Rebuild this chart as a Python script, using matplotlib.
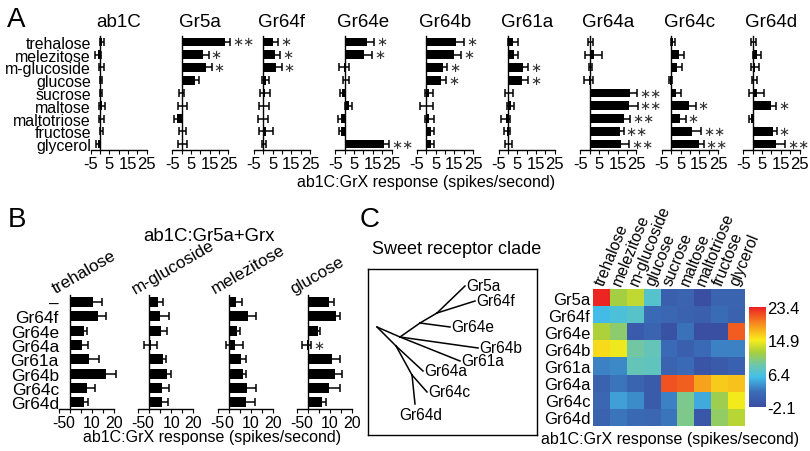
import matplotlib
matplotlib.use('Agg')
import matplotlib.pyplot as plt
import numpy as np
from matplotlib.colors import LinearSegmentedColormap

plt.rcParams['font.family'] = ['Liberation Sans', 'DejaVu Sans']

# ---- Панель A: ответы ab1C:GrX на сахара ----
sugars = ['trehalose', 'melezitose', 'm-glucoside', 'glucose', 'sucrose',
          'maltose', 'maltotriose', 'fructose', 'glycerol']
receptors = ['ab1C', 'Gr5a', 'Gr64f', 'Gr64e', 'Gr64b', 'Gr61a', 'Gr64a', 'Gr64c', 'Gr64d']

mean_a = [
    [1.0, -1.0, 0.8, 0.5, 0.6, 1.2, 0.8, 0.7, -1.2],      # ab1C
    [23.2, 11.7, 12.8, 7.0, 0.0, 0.5, -2.5, 0.5, 0.5],    # Gr5a
    [5.4, 6.3, 7.1, 1.4, 0.9, 0.4, 0.0, 1.5, 0.4],        # Gr64f
    [12.1, 10.4, -0.4, 0.5, -1.6, 2.0, -2.0, -2.0, 21.0], # Gr64e
    [15.7, 14.6, 8.9, 8.0, 1.4, 0.0, 1.4, 2.7, 2.7],      # Gr64b
    [2.7, 3.0, 8.0, 7.7, 0.5, 1.4, -1.2, -0.5, 0.3],      # Gr61a
    [0.4, 2.1, 0.5, -0.5, 21.4, 20.9, 18.2, 16.4, 16.8],  # Gr64a
    [0.9, 4.1, 3.2, -0.5, 2.7, 9.5, 4.6, 11.3, 14.8],     # Gr64c
    [0.4, 2.1, 1.3, 0.9, 2.1, 9.6, -1.0, 10.7, 12.5],     # Gr64d
]
err_a = [
    [1.2, 1.5, 1.5, 0.6, 0.4, 1.5, 1.2, 0.8, 0.8],
    [2.7, 2.7, 3.2, 2.3, 1.3, 2.2, 1.5, 2.0, 2.2],
    [2.7, 2.7, 2.7, 1.8, 2.7, 2.7, 2.7, 4.0, 1.0],
    [3.6, 4.4, 2.8, 1.5, 1.0, 2.0, 1.5, 1.0, 2.7],
    [4.5, 4.1, 2.1, 2.7, 2.2, 3.6, 2.4, 1.2, 1.2],
    [2.7, 2.3, 2.7, 3.0, 2.0, 1.8, 2.5, 1.5, 2.0],
    [1.5, 4.5, 1.0, 2.5, 4.0, 4.8, 3.6, 1.8, 4.5],
    [1.2, 2.7, 2.7, 0.8, 2.3, 3.6, 3.1, 4.8, 2.7],
    [1.5, 2.1, 2.0, 1.5, 4.1, 2.9, 1.0, 2.1, 4.8],
]
sig_a = [
    ['', '', '', '', '', '', '', '', ''],
    ['**', '*', '*', '', '', '', '', '', ''],
    ['*', '*', '*', '', '', '', '', '', ''],
    ['*', '*', '', '', '', '', '', '', '**'],
    ['*', '*', '*', '*', '', '', '', '', ''],
    ['', '', '*', '*', '', '', '', '', ''],
    ['', '', '', '', '**', '**', '**', '**', '**'],
    ['', '', '', '', '', '*', '*', '**', '**'],
    ['', '', '', '', '', '*', '', '*', '**'],
]

# ---- Панель B: ab1C:Gr5a+GrX ----
b_rows = ['–', 'Gr64f', 'Gr64e', 'Gr64a', 'Gr61a', 'Gr64b', 'Gr64c', 'Gr64d']
b_sugars = ['trehalose', 'm-glucoside', 'melezitose', 'glucose']
mean_b = [
    [10.6, 12.9, 6.5, 5.3, 8.8, 16.2, 7.6, 6.4],
    [3.9, 5.0, 5.3, 0.6, 6.2, 8.0, 5.8, 5.8],
    [3.5, 8.8, 3.9, 2.7, 5.5, 6.5, 8.3, 8.0],
    [9.7, 12.7, 4.8, -0.6, 10.9, 12.4, 9.7, 6.4],
]
err_b = [
    [3.8, 3.5, 1.4, 3.0, 4.5, 4.7, 3.8, 1.6],
    [2.5, 3.8, 2.7, 3.0, 1.4, 1.8, 3.0, 2.5],
    [2.5, 3.8, 1.4, 3.8, 2.5, 1.2, 4.0, 4.0],
    [2.0, 2.0, 0.8, 2.1, 3.8, 3.0, 5.0, 1.9],
]
sig_b = [
    ['', '', '', '', '', '', '', ''],
    ['', '', '', '', '', '', '', ''],
    ['', '', '', '', '', '', '', ''],
    ['', '', '', '*', '', '', '', ''],
]

# ---- Панель C: тепловая карта (те же средние, без ab1C) ----
heat_rows = receptors[1:]
heat_vals = np.array(mean_a[1:])
cbar_ticks = [-2.1, 6.4, 14.9, 23.4]

# дерево: узлы (в пикселях рисунка) и ветви
tree_nodes = {'root': (377, 328), 'n1': (400, 338), 'n2': (420, 324), 'n3': (437, 314),
              'n4': (396, 347), 'n5': (412, 376),
              'Gr5a': (465, 287), 'Gr64f': (475, 302), 'Gr64e': (450, 328),
              'Gr64b': (478, 349), 'Gr61a': (460, 362), 'Gr64a': (423, 372),
              'Gr64c': (427, 393), 'Gr64d': (415, 405)}
tree_edges = [('root', 'n1'), ('n1', 'n2'), ('n2', 'n3'), ('n3', 'Gr5a'), ('n3', 'Gr64f'),
              ('n2', 'Gr64e'), ('n1', 'Gr64b'), ('n1', 'Gr61a'), ('root', 'n4'),
              ('n4', 'Gr64a'), ('n4', 'n5'), ('n5', 'Gr64c'), ('n5', 'Gr64d')]

W, H = 810, 452
fig = plt.figure(figsize=(W/100, H/100), dpi=100)


def box(x0, y0, x1, y1):
    # пиксели (сверху вниз) -> доли рисунка
    return [x0/W, 1 - y1/H, (x1 - x0)/W, (y1 - y0)/H]


def bar_axes(ax, means, errs, sigs, xlim, n):
    y = np.arange(n)
    ax.barh(y, means, height=0.7, color='k')
    eb = ax.errorbar(means, y, xerr=errs, fmt='none', ecolor='k',
                     elinewidth=1.1, capsize=2.6, capthick=1.1)
    for art in eb.get_children():
        art.set_clip_on(False)
    for j, s in enumerate(sigs):
        if s:
            ax.text(means[j] + errs[j] + 1.0, j, s.replace('*', '∗'), ha='left', va='center',
                    fontsize=9.5, color='#333333', clip_on=False,
                    family=['DejaVu Sans'])
    ax.set_xlim(*xlim)
    ax.set_ylim(n - 0.5, -0.5)
    ax.spines['top'].set_visible(False)
    ax.spines['right'].set_visible(False)
    ax.spines['left'].set_position(('data', 0))
    for sp in ax.spines.values():
        sp.set_linewidth(1.0)
    ax.tick_params(axis='y', length=0)
    ax.tick_params(axis='x', which='both', length=3, width=0.8, pad=1)
    ax.patch.set_visible(False)


# Панель A
sa = 1.87
for i, name in enumerate(receptors):
    z = 100 + i*81.6
    ax = fig.add_axes(box(z - 5*sa, 36.6, z + 25*sa, 151.4))
    bar_axes(ax, mean_a[i], err_a[i], sig_a[i], (-5, 25), len(sugars))
    ax.set_xticks([-5, 5, 15, 25])
    ax.set_xticks([0, 10, 20], minor=True)
    ax.set_xticklabels(['-5', '5', '15', '25'], fontsize=12)
    if i == 0:
        ax.set_yticks(range(len(sugars)))
        ax.set_yticklabels(sugars, fontsize=11.4)
        ax.tick_params(axis='y', pad=6.5)
    else:
        ax.set_yticks([])
    fig.text((z + 10*sa)/W, 1 - 27/H, name, ha='center', va='baseline', fontsize=13.5)

fig.text(426/W, 1 - 182/H, 'ab1C:GrX response (spikes/second)', ha='center', va='center', fontsize=11.5)

# Панель B
sb = 2.2
for i, name in enumerate(b_sugars):
    z = 70 + i*79.3
    ax = fig.add_axes(box(z - 5*sb, 296, z + 20*sb, 410.4))
    bar_axes(ax, mean_b[i], err_b[i], sig_b[i], (-5, 20), len(b_rows))
    ax.set_xticks([-5, 0, 10, 20])
    ax.set_xticks([5, 15], minor=True)
    ax.set_xticklabels(['-5', '0', '10', '20'], fontsize=11.5)
    if i == 0:
        ax.set_yticks(range(len(b_rows)))
        ax.set_yticklabels(b_rows, fontsize=12.5)
        ax.tick_params(axis='y', pad=8)
    else:
        ax.set_yticks([])
    fig.text((z - 14)/W, 1 - 294/H, name, rotation=30, rotation_mode='anchor',
             ha='left', va='baseline', fontsize=12.3)

fig.text(209/W, 1 - 237/H, 'ab1C:Gr5a+Grx', ha='center', va='center', fontsize=13.4)
fig.text(212/W, 1 - 438/H, 'ab1C:GrX response (spikes/second)', ha='center', va='center', fontsize=11.5)

# Панель C: дерево
tax = fig.add_axes(box(368, 270, 537, 436))
tax.set_xlim(368, 537)
tax.set_ylim(436, 270)
tax.set_xticks([])
tax.set_yticks([])
for sp in tax.spines.values():
    sp.set_linewidth(1.0)
for a, b in tree_edges:
    (x0, y0), (x1, y1) = tree_nodes[a], tree_nodes[b]
    tax.plot([x0, x1], [y0, y1], color='k', lw=1.1)
for name in heat_rows:
    x, y = tree_nodes[name]
    if name == 'Gr64d':
        # подпись под концом ветви
        tax.text(x + 6, y + 3, name, ha='center', va='top', fontsize=11.2)
    else:
        tax.text(x + 1, y, name, ha='left', va='center', fontsize=11.2)
fig.text(457/W, 1 - 249/H, 'Sweet receptor clade', ha='center', va='center', fontsize=13)

# Панель C: тепловая карта
cmap = LinearSegmentedColormap.from_list('sweet', [
    (0.0, '#3a4ea2'), (0.15, '#3a6db7'), (0.3, '#43bfe9'), (0.42, '#6dc6ab'),
    (0.55, '#a9d03c'), (0.67, '#f8ec1b'), (0.82, '#f7941e'), (1.0, '#ec2024')])
hax = fig.add_axes(box(593, 290, 745, 427))
im = hax.imshow(heat_vals, cmap=cmap, vmin=cbar_ticks[0], vmax=cbar_ticks[-1],
                aspect='auto', interpolation='nearest')
hax.set_xticks([])
hax.set_yticks(range(len(heat_rows)))
hax.set_yticklabels(heat_rows, fontsize=12)
hax.tick_params(axis='y', length=0, pad=2)
for sp in hax.spines.values():
    sp.set_visible(False)
for j, s in enumerate(sugars):
    hax.text(j + 0.15, -0.7, s, rotation=68, rotation_mode='anchor',
             ha='left', va='baseline', fontsize=11.3)

cax = fig.add_axes(box(749, 308, 766, 408))
cb = fig.colorbar(im, cax=cax, ticks=cbar_ticks)
cb.outline.set_visible(False)
cb.ax.tick_params(length=0, pad=1, labelsize=12)
cb.ax.set_yticklabels(['%.1f' % t for t in cbar_ticks])
fig.text(670/W, 1 - 440/H, 'ab1C:GrX response (spikes/second)', ha='center', va='center', fontsize=11.5)

# Буквы панелей
fig.text(7/W, 1 - 27/H, 'A', fontsize=20, va='baseline')
fig.text(8/W, 1 - 227/H, 'B', fontsize=20, va='baseline')
fig.text(360/W, 1 - 227/H, 'C', fontsize=20, va='baseline')

fig.savefig('out.png', dpi=100)
